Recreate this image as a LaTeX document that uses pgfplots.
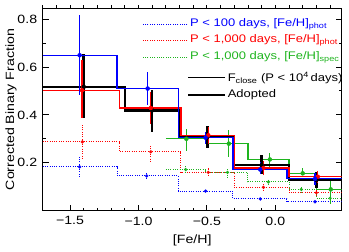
\documentclass[border=0pt]{standalone}
\usepackage{fontspec}
\setmainfont{Liberation Sans}[FakeStretch=1.18]
\usepackage{pgfplots}
\pgfplotsset{compat=1.18}
\definecolor{mygreen}{RGB}{30,180,30}
\tikzset{dotsty/.style={line width=1pt, dash pattern=on 1pt off 1.3pt}}
\begin{document}
\begin{tikzpicture}
\begin{axis}[
  scale only axis, width=299pt, height=202.4pt,
  xmin=-1.7, xmax=0.485, ymin=0, ymax=0.845,
  axis line style={line width=1.1pt},
  xtick={-1.5,-1,-0.5,0}, xticklabels={−1.5,−1.0,−0.5,0.0},
  xtick pos=bottom,
  minor x tick num=4,
  ytick={0.2,0.4,0.6,0.8}, yticklabels={0.2,0.4,0.6,0.8},
  minor y tick num=1,
  tick align=inside, major tick length=6pt, minor tick length=3pt,
  tick style={line width=0.9pt, black},
  tick label style={font=\fontsize{12}{12}\selectfont},
  xticklabel style={yshift=-2.5pt},
  yticklabel style={xshift=-2pt},
  xlabel={[Fe/H]}, ylabel={Corrected Binary Fraction},
  label style={font=\fontsize{12}{12}\selectfont},
  xlabel style={at={(axis description cs:0.5,-0.145)}, anchor=center},
  ylabel style={at={(axis description cs:-0.106,0.5)}, anchor=center},
]
% dotted raw series
\addplot[const plot, blue, dotsty] coordinates {
(-1.7,0.183) (-1.157,0.145) (-0.71,0.082) (-0.31,0.049) (0.085,0.0375) (0.485,0.0375)};
\addplot[const plot, red, dotsty] coordinates {
(-1.7,0.2875) (-1.14,0.246) (-0.69,0.16) (-0.30,0.0975) (0.10,0.075) (0.485,0.075)};
\addplot[const plot, mygreen, dotsty] coordinates {
(-0.8,0.172) (-0.51,0.16) (-0.2,0.12) (0.1,0.089) (0.3,0.052) (0.485,0.052)};

\addplot[blue, only marks, mark=o, mark size=1.3pt, mark options={solid, line width=0.7pt},
  error bars/.cd, y dir=both, y explicit, error mark=none,
  error bar style={dotsty}] coordinates {
(-1.43,0.183) += (0,0.042) -= (0,0.047)
(-0.94,0.145) += (0,0.015) -= (0,0.015)
(-0.51,0.082) += (0,0.008) -= (0,0.008)
(-0.11,0.049) += (0,0.006) -= (0,0.006)
(0.29,0.0375) += (0,0.007) -= (0,0.006)};
\addplot[red, only marks, mark=o, mark size=1.3pt, mark options={solid, line width=0.7pt},
  error bars/.cd, y dir=both, y explicit, error mark=none,
  error bar style={dotsty}] coordinates {
(-1.41,0.2875) += (0,0.07) -= (0,0.068)
(-0.91,0.246) += (0,0.025) -= (0,0.04)
(-0.49,0.16) += (0,0.02) -= (0,0.015)
(-0.087,0.0975) += (0,0.013) -= (0,0.013)
(0.30,0.075) += (0,0.012) -= (0,0.01)};
\addplot[mygreen, only marks, mark=o, mark size=1.3pt, mark options={solid, line width=0.7pt},
  error bars/.cd, y dir=both, y explicit, error mark=none,
  error bar style={dotsty}] coordinates {
(-0.655,0.172) += (0,0.013) -= (0,0.017)
(-0.35,0.16) += (0,0.015) -= (0,0.02)
(-0.05,0.12) += (0,0.01) -= (0,0.01)
(0.19,0.089) += (0,0.011) -= (0,0.014)
(0.40,0.052) += (0,0.013) -= (0,0.017)};

% corrected series
\addplot[const plot, mygreen, line width=1.2pt] coordinates {
(-0.8,0.30) (-0.51,0.28) (-0.2,0.214) (0.1,0.156) (0.3,0.089) (0.485,0.089)};
\addplot[mygreen, only marks, mark=none,
  error bars/.cd, y dir=both, y explicit, error mark=none, error bar style={line width=1.2pt}] coordinates {
(-0.65,0.30) += (0,0.043) -= (0,0.05)
(-0.34,0.28) += (0,0.056) -= (0,0.055)
(-0.04,0.214) += (0,0.026) -= (0,0.034)
(0.2,0.156) += (0,0.024) -= (0,0.007)
(0.405,0.089) += (0,0.039) -= (0,0.061)};

% black F_close (thin) and adopted (thick)
\addplot[const plot, black, line width=0.9pt] coordinates {
(-1.7,0.517) (-1.10,0.419) (-0.70,0.308) (-0.305,0.19) (0.10,0.128) (0.485,0.128)};
\addplot[const plot, black, line width=2.6pt] coordinates {
(-1.7,0.517) (-1.10,0.419) (-0.70,0.308) (-0.305,0.19) (0.10,0.128) (0.485,0.128)};
\addplot[black, only marks, mark=none,
  error bars/.cd, y dir=both, y explicit, error mark=none, error bar style={line width=2.6pt}] coordinates {
(-1.40,0.517) += (0,0.139) -= (0,0.132)
(-0.90,0.419) += (0,0.087) -= (0,0.089)
(-0.497,0.308) += (0,0.047) -= (0,0.048)
(-0.10,0.19) += (0,0.042) -= (0,0.038)
(0.30,0.128) += (0,0.035) -= (0,0.035)};

\addplot[const plot, red, line width=1.2pt] coordinates {
(-1.7,0.503) (-1.14,0.429) (-0.69,0.315) (-0.30,0.178) (0.10,0.142) (0.485,0.142)};
\addplot[red, only marks, mark=none,
  error bars/.cd, y dir=both, y explicit, error mark=none, error bar style={line width=1.2pt}] coordinates {
(-1.413,0.503) += (0,0.125) -= (0,0.118)
(-0.91,0.429) += (0,0.067) -= (0,0.065)
(-0.49,0.315) += (0,0.035) -= (0,0.035)
(-0.087,0.178) += (0,0.03) -= (0,0.028)
(0.31,0.142) += (0,0.023) -= (0,0.028)};

\addplot[const plot, blue, line width=1.2pt] coordinates {
(-1.7,0.649) (-1.157,0.51) (-0.71,0.305) (-0.31,0.172) (0.085,0.133) (0.485,0.133)};
\addplot[blue, only marks, mark=none,
  error bars/.cd, y dir=both, y explicit, error mark=none, error bar style={line width=1.2pt}] coordinates {
(-1.43,0.649) += (0,0.166) -= (0,0.167)
(-0.933,0.51) += (0,0.069) -= (0,0.07)
(-0.51,0.305) += (0,0.025) -= (0,0.025)
(-0.11,0.172) += (0,0.03) -= (0,0.02)
(0.29,0.133) += (0,0.023) -= (0,0.025)};

% legend
\begin{scope}[every node/.style={anchor=mid west, inner sep=0pt, font=\fontsize{11}{11}\selectfont}]
\node[blue] (l1) at (axis description cs:0.4926,0.9241) {P < 100 days, [Fe/H]\textsubscript{phot}};
\node[red] (l2) at (axis description cs:0.4926,0.8421) {P < 1,000 days, [Fe/H]\textsubscript{phot}};
\node[mygreen] (l3) at (axis description cs:0.4926,0.7596) {P < 1,000 days, [Fe/H]\textsubscript{spec}};
\node[black] (l4) at (axis description cs:0.6184,0.6524) {F\textsubscript{close} (P < 10\textsuperscript{4}\,days)};
\node[black] (l5) at (axis description cs:0.6184,0.5704) {Adopted};
\end{scope}
\draw[blue, dotsty] ([xshift=-2.5pt]l1.west) -- ++(-44pt,0pt);
\draw[red, dotsty] ([xshift=-2.5pt]l2.west) -- ++(-44pt,0pt);
\draw[mygreen, dotsty] ([xshift=-2.5pt]l3.west) -- ++(-44pt,0pt);
\draw[black, line width=0.9pt] ([xshift=-2.5pt]l4.west) -- ++(-37pt,0pt);
\draw[black, line width=2.6pt] ([xshift=-2.5pt]l5.west) -- ++(-37pt,0pt);
\end{axis}
% top axis with outward ticks
\begin{axis}[
  scale only axis, width=299pt, height=202.4pt,
  xmin=-1.7, xmax=0.485, ymin=0, ymax=0.845,
  axis x line*=top, axis y line=none,
  axis line style={line width=1.1pt},
  xtick={-1.7,-1.6,...,0.45}, xticklabels={},
  tick align=outside, major tick length=3pt,
  tick style={line width=0.9pt, black},
]
\addplot[draw=none] coordinates {(0,0.5)};
\end{axis}
\pgfresetboundingbox
\path ([shift={(-42.7pt,-40.3pt)}]current axis.south west) rectangle ([shift={(7.3pt,8.3pt)}]current axis.north east);
\end{tikzpicture}
\end{document}
